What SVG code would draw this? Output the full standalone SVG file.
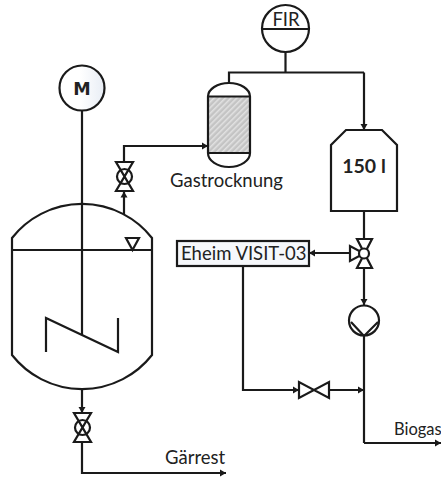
<svg xmlns="http://www.w3.org/2000/svg" width="441" height="478" viewBox="0 0 441 478">
<style>
.s{fill:none;stroke:#1a1a1a;stroke-width:2.2}
.w{fill:#fff;stroke:#1a1a1a;stroke-width:2.2}
.c{fill:none;stroke:#1a1a1a;stroke-width:2.2;marker-end:url(#a)}
.t{font-family:Lato,"Liberation Sans",sans-serif;font-size:18.5px;fill:#222}
.b{font-weight:700}
</style>
<defs>
<marker id="a" markerUnits="userSpaceOnUse" markerWidth="8" markerHeight="8" refX="6" refY="4" orient="auto"><path d="M0 0.5L6 4L0 7.5Z" fill="#1a1a1a"/></marker>
<pattern id="h" width="4" height="4" patternUnits="userSpaceOnUse" patternTransform="rotate(-45)"><rect width="4" height="4" fill="#c4c4c4"/><rect width="4" height="1.5" fill="#e2e2e2"/></pattern>
<linearGradient id="g"><stop offset="0.45" stop-color="#fff"/><stop offset="1" stop-color="#e8edf5"/></linearGradient>
</defs>
<g id="connectors">
<path class="s" d="M285.500 52V72.500M229 83V72.500H364"/>
<path class="c" d="M364 72.500V130"/>
<path class="s" d="M82 111V335"/>
<path class="c" d="M124 214V191.500"/>
<path class="c" d="M124 162V146H208"/>
<path class="c" d="M82 389V413"/>
<path class="c" d="M82 442V473H226"/>
<path class="s" d="M364 211V239"/>
<path class="c" d="M350 253H309"/>
<path class="c" d="M364 268V305"/>
<path class="s" d="M364 336V443"/>
<path class="c" d="M364 443H441"/>
<path class="c" d="M243 266V390H299"/>
<path class="c" d="M329 390H364"/>
</g>
<g id="motor"><circle class="s" cx="82" cy="88" r="22.500" style="fill:url(#g)"/><text x="82" y="94.500" text-anchor="middle" style="font-family:'DejaVu Sans',sans-serif;font-size:17.500px;font-weight:700;fill:#222">M</text></g>
<g id="fir"><circle class="s" cx="285.500" cy="28.500" r="23.500" style="fill:#fff"/><path class="s" d="M262 29H309"/><text class="t" x="286" y="26" text-anchor="middle">FIR</text></g>
<g id="reactor">
<path class="s" d="M12 238A89 89 0 0 1 152 238V355A89 89 0 0 1 12 355Z"/>
<path class="s" d="M12 250H152"/>
<path class="s" d="M126 238H139L132.500 250Z"/>
<path class="s" d="M46 352V318L118 352V318"/>
</g>
<g id="dryer">
<rect x="208" y="96.500" width="42" height="56.500" fill="url(#h)"/>
<path class="s" d="M208 96.500A21 13.500 0 0 1 250 96.500V153A21 14 0 0 1 208 153Z"/>
<path class="s" d="M208 96.500H250M208 153H250"/>
<text class="t" x="170" y="187">Gastrocknung</text>
</g>
<g id="tank"><path class="s" d="M346 130H382L397 145V211H331V145Z" style="fill:#fff"/><text class="t b" x="364" y="173" text-anchor="middle" style="font-size:19.500px">150 l</text></g>
<g id="valve-top"><path class="w" d="M116 162H133L116 191H133Z"/><circle class="s" cx="124.500" cy="176.500" r="7.500"/></g>
<g id="valve-bottom"><path class="w" d="M74 413H91L74 442H91Z"/><circle class="s" cx="82.500" cy="427.500" r="7.500"/></g>
<g id="valve-3way"><path class="w" d="M357 239H372L357 268H372Z"/><path class="w" d="M350 246V261L364 253.500Z"/><circle class="w" cx="364" cy="253.500" r="5"/></g>
<g id="box"><rect class="s" x="177" y="241" width="132" height="25" style="fill:#f6f8fb"/><text class="t" x="181" y="260">Eheim VISIT-03</text></g>
<g id="pump"><circle class="s" cx="364" cy="320.500" r="15" style="fill:#fff"/><path class="s" d="M351 322L364 336L378 322"/></g>
<g id="valve-bypass"><path class="w" d="M299 382V398L329 382V398Z"/></g>
<g id="labels"><text class="t" x="165" y="464">Gärrest</text><text class="t" x="394" y="435" style="font-size:16.500px">Biogas</text></g>
</svg>
